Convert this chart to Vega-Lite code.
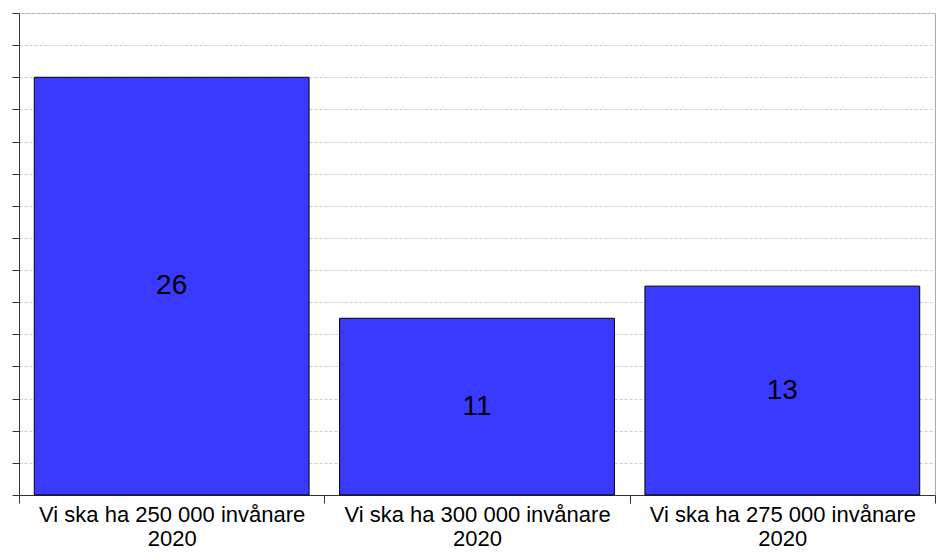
{
  "$schema": "https://vega.github.io/schema/vega-lite/v6.json",
  "width": 916,
  "height": 482,
  "autosize": {"type": "pad"},
  "padding": {"left": 11, "top": 12, "right": 1, "bottom": 0},
  "background": "white",
  "config": {
    "view": {"stroke": "#a8a8a8", "strokeWidth": 1},
    "font": "Liberation Sans"
  },
  "data": {
    "values": [
      {"kategori": "Vi ska ha 250 000 invånare\n2020", "antal": 26},
      {"kategori": "Vi ska ha 300 000 invånare\n2020", "antal": 11},
      {"kategori": "Vi ska ha 275 000 invånare\n2020", "antal": 13}
    ]
  },
  "encoding": {
    "x": {
      "field": "kategori",
      "type": "nominal",
      "sort": null,
      "title": null,
      "scale": {"paddingInner": 0, "paddingOuter": 0},
      "axis": {
        "labelAngle": 0,
        "labelExpr": "split(datum.label, '\\n')",
        "labelFont": "Liberation Sans",
        "labelFontSize": 22,
        "labelColor": "black",
        "labelLineHeight": 24,
        "labelPadding": 1,
        "labelLimit": 400,
        "tickBand": "extent",
        "tickSize": 8,
        "tickColor": "#333333",
        "domainColor": "#333333",
        "grid": false
      }
    }
  },
  "layer": [
    {
      "mark": {"type": "bar", "color": "#3a3aff", "stroke": "black", "strokeWidth": 1, "width": {"band": 0.9}},
      "encoding": {
        "y": {
          "field": "antal",
          "type": "quantitative",
          "title": null,
          "scale": {"domain": [0, 30], "nice": false},
          "axis": {
            "values": [0, 2, 4, 6, 8, 10, 12, 14, 16, 18, 20, 22, 24, 26, 28, 30],
            "labels": false,
            "tickSize": 7,
            "tickColor": "#333333",
            "domainColor": "#333333",
            "grid": true,
            "gridColor": "#cccccc",
            "gridDash": [3, 2],
            "gridWidth": 1
          }
        }
      }
    },
    {
      "mark": {"type": "text", "fontSize": 28, "font": "Liberation Sans", "color": "black", "baseline": "middle", "align": "center"},
      "encoding": {
        "y": {
          "field": "antal",
          "type": "quantitative",
          "scale": {"domain": [0, 60], "nice": false},
          "axis": null
        },
        "text": {"field": "antal", "type": "quantitative"}
      }
    }
  ],
  "resolve": {"scale": {"y": "independent"}}
}
